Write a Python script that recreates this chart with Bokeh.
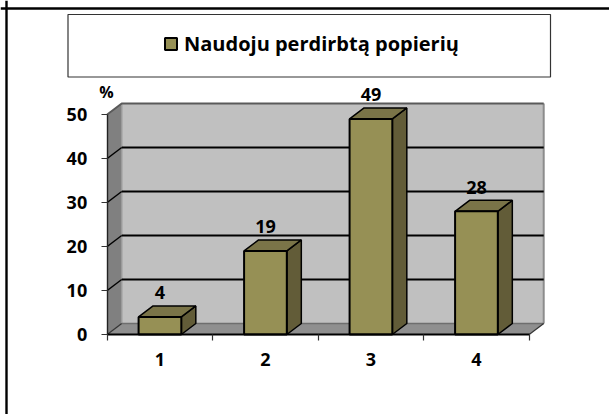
from bokeh.plotting import figure
from bokeh.models import (ColumnDataSource, FixedTicker, Label, Legend, LegendItem, LinearAxis,
                          Range1d, Span, BoxAnnotation)
from bokeh.core.properties import value
from bokeh.embed import file_html
from bokeh.resources import INLINE

categories = [1, 2, 3, 4]
values = [4, 19, 49, 28]
y_ticks = [0, 10, 20, 30, 40, 50]
x_edges = [0.5, 1.5, 2.5, 3.5, 4.5]
legend_label = "Naudoju perdirbtą popierių"
unit_label = "%"

W, H = 609, 414
PX_X0, PX_PER_CAT = 106.7, 105.5
PX_Y0, PX_PER_VAL = 334.0, 4.4
BAR_W = 0.405
DX = 14.5 / PX_PER_CAT
DY = 11.0 / PX_PER_VAL
FONT = "Open Sans"

x_range = Range1d(0.5 - PX_X0 / PX_PER_CAT, 0.5 + (W - PX_X0) / PX_PER_CAT)
y_range = Range1d(-(H - PX_Y0) / PX_PER_VAL, PX_Y0 / PX_PER_VAL)

p = figure(width=W, height=H, x_range=x_range, y_range=y_range, output_backend="svg",
           toolbar_location=None, x_axis_type=None, y_axis_type=None, min_border=0,
           outline_line_color=None, background_fill_color="white")
p.grid.visible = False

xa, xb = x_edges[0], x_edges[-1]
ya, yb = y_ticks[0], y_ticks[-1]

# walls
p.patch([xa + DX, xb + DX, xb + DX, xa + DX], [ya + DY, ya + DY, yb + DY, yb + DY],
        fill_color="#C0C0C0", line_color=None)
p.patch([xa, xa + DX, xa + DX, xa], [ya, ya + DY, yb + DY, yb],
        fill_color="#808080", line_color=None)
p.patch([xa, xb, xb + DX, xa + DX], [ya, ya, ya + DY, ya + DY],
        fill_color="#8F8F8F", line_color=None)

# wall edges
p.line([xb + DX, xb + DX], [ya + DY, yb + DY], line_color="#8C8C8C", line_width=2)
p.line([xa + DX, xa + DX], [ya + DY, yb + DY], line_color="#9A9A9A", line_width=1.5)
p.line([xa + DX, xb + DX], [ya + DY, ya + DY], line_color="#6E6E6E", line_width=1.6)
p.line([xa, xa + DX, xb + DX], [yb, yb + DY, yb + DY], line_color="#5A5A5A", line_width=2)
p.segment([xa, xb], [ya, ya], [xa + DX, xb + DX], [ya + DY, ya + DY], line_color="#333333", line_width=1.2)

# gridlines
inner = y_ticks[1:-1]
p.segment([xa + DX] * len(inner), [t + DY for t in inner], [xb + DX] * len(inner), [t + DY for t in inner],
          line_color="black", line_width=2)
p.segment([xa] * len(inner), inner, [xa + DX] * len(inner), [t + DY for t in inner],
          line_color="black", line_width=1.5)

# bars
lefts = [c - BAR_W / 2 for c in categories]
rights = [c + BAR_W / 2 for c in categories]
src = ColumnDataSource(dict(left=lefts, right=rights, bottom=[0] * 4, top=values))
side_xs = [[r, r + DX, r + DX, r] for r in rights]
side_ys = [[0, DY, v + DY, v] for v in values]
top_xs = [[l, r, r + DX, l + DX] for l, r in zip(lefts, rights)]
top_ys = [[v, v, v + DY, v + DY] for v in values]
p.patches(side_xs, side_ys, fill_color="#625C38", line_color="black", line_width=1.5)
p.patches(top_xs, top_ys, fill_color="#7A7448", line_color="black", line_width=1.5)
front = p.quad(left="left", right="right", bottom="bottom", top="top", source=src,
               fill_color="#969055", line_color="black", line_width=2)

# data labels
lab_src = ColumnDataSource(dict(cat=categories, top=values, txt=[str(v) for v in values]))
p.text(x="cat", y="top", text="txt", source=lab_src, text_align="center", text_baseline="middle",
       y_offset=-24, text_font=value(FONT), text_font_style="bold", text_font_size="18px", text_color="black")

# axes
yaxis = LinearAxis(fixed_location=xa, ticker=FixedTicker(ticks=y_ticks), bounds=(ya, yb))
yaxis.major_tick_out = 6
yaxis.major_tick_in = 0
yaxis.minor_tick_out = 0
yaxis.minor_tick_in = 0
yaxis.major_label_standoff = 14
yaxis.major_label_text_font = FONT
yaxis.major_label_text_font_style = "bold"
yaxis.major_label_text_font_size = "18px"
yaxis.major_label_text_color = "black"
yaxis.axis_line_color = "#222222"
yaxis.axis_line_width = 1.4
yaxis.major_tick_line_color = "#333333"
yaxis.major_tick_line_width = 1.2
p.add_layout(yaxis, "left")

xticks = LinearAxis(fixed_location=ya, ticker=FixedTicker(ticks=x_edges), bounds=(xa, xb))
xticks.major_tick_out = 6
xticks.major_tick_in = 0
xticks.minor_tick_out = 0
xticks.minor_tick_in = 0
xticks.major_label_text_font_size = "0px"
xticks.major_label_text_color = None
xticks.axis_line_color = "black"
xticks.axis_line_width = 2
xticks.major_tick_line_color = "#333333"
xticks.major_tick_line_width = 1.2
p.add_layout(xticks, "below")

xlabels = LinearAxis(fixed_location=ya, ticker=FixedTicker(ticks=categories), bounds=(xa, xb))
xlabels.major_tick_out = 0
xlabels.major_tick_in = 0
xlabels.minor_tick_out = 0
xlabels.minor_tick_in = 0
xlabels.axis_line_color = None
xlabels.major_tick_line_color = None
xlabels.major_label_standoff = 18
xlabels.major_label_text_font = FONT
xlabels.major_label_text_font_style = "bold"
xlabels.major_label_text_font_size = "18px"
xlabels.major_label_text_color = "black"
p.add_layout(xlabels, "below")

# unit label
p.add_layout(Label(x=106, y=H - 91, x_units="screen", y_units="screen", text=unit_label,
                   text_font=FONT, text_font_style="bold", text_font_size="16px",
                   text_align="center", text_baseline="middle", text_color="black"))

# outer frame: top and left
p.add_layout(Span(location=H - 8, location_units="screen", dimension="width", line_color="black", line_width=2.4))
p.add_layout(Span(location=6, location_units="screen", dimension="height", line_color="black", line_width=2.4))

# legend box
p.add_layout(BoxAnnotation(left=67.5, right=550, top=H - 14, bottom=H - 76.5,
                           left_units="screen", right_units="screen", top_units="screen", bottom_units="screen",
                           fill_color="white", fill_alpha=1, line_color="#333333", line_alpha=1, line_width=1.2))
legend = Legend(items=[LegendItem(label=legend_label, renderers=[front])],
                location=(163, H - 57), orientation="horizontal",
                padding=0, margin=0, spacing=0, border_line_color=None, background_fill_alpha=0,
                glyph_width=15, glyph_height=15, label_standoff=6, label_height=20,
                label_text_font=FONT, label_text_font_style="bold", label_text_font_size="20px",
                label_text_color="black")
p.add_layout(legend, "center")

open("out.html", "w").write(file_html(p, INLINE))
